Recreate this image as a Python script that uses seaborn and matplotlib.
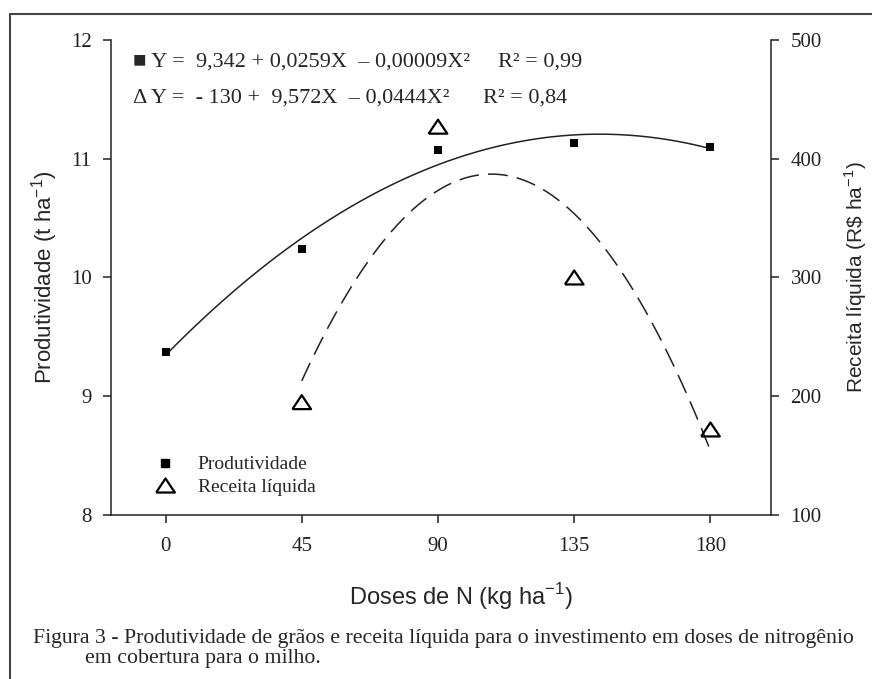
import seaborn as sns
import matplotlib.pyplot as plt
from matplotlib.lines import Line2D

# values
DOSES = [0, 45, 90, 135, 180]
PRODUTIVIDADE = [9.37, 10.24, 11.07, 11.13, 11.10]
DOSES_RECEITA = [45, 90, 135, 180]
RECEITA = [195, 427, 300, 172]

X_TICKS = [0, 45, 90, 135, 180]
Y_TICKS_PROD = [8, 9, 10, 11, 12]
Y_TICKS_REC = [100, 200, 300, 400, 500]

EQ_PROD = '■ Y =  9,342 + 0,0259X  – 0,00009X²'
EQ_REC = 'Δ Y =  - 130 +  9,572X  – 0,0444X²'
R2_PROD = 'R² = 0,99'
R2_REC = 'R² = 0,84'
CAPTION_1 = ('Figura 3 - Produtividade de grãos e receita líquida para o '
             'investimento em doses de nitrogênio')
CAPTION_2 = 'em cobertura para o milho.'

SERIF = ['Liberation Serif', 'DejaVu Serif']
SANS = ['Liberation Sans', 'DejaVu Sans']
TRIANGLE = [(-1, -0.75), (1, -0.75), (0, 0.75), (-1, -0.75)]

sns.set_theme(style='ticks')
plt.rcParams['font.family'] = SERIF
plt.rcParams['mathtext.fontset'] = 'custom'
plt.rcParams['mathtext.rm'] = 'Liberation Sans'

fig = plt.figure(figsize=(8.72, 6.79), dpi=100)
ax = fig.add_axes([0.1273, 0.2416, 0.7569, 0.6995])
ax2 = ax.twinx()

# fitted quadratics
sns.regplot(x=DOSES, y=PRODUTIVIDADE, order=2, ci=None, scatter=False, ax=ax,
            line_kws=dict(color='#222222', lw=1.1))
sns.regplot(x=DOSES_RECEITA, y=RECEITA, order=2, ci=None, scatter=False, ax=ax2,
            line_kws=dict(color='#222222', lw=1.1, dashes=(13, 6)))

sns.scatterplot(x=DOSES, y=PRODUTIVIDADE, ax=ax, marker='s', s=36,
                color='black', edgecolor='black', linewidth=0, zorder=5)
sns.scatterplot(x=DOSES_RECEITA, y=RECEITA, ax=ax2, marker=TRIANGLE, s=180,
                facecolors='none', edgecolors='black', linewidth=1.6, zorder=5)

ax.set_xlim(-18, 200)
ax.set_ylim(8, 12)
ax2.set_ylim(100, 500)
ax.set_xticks(X_TICKS)
ax.set_yticks(Y_TICKS_PROD)
ax2.set_yticks(Y_TICKS_REC)

for a in (ax, ax2):
    a.grid(False)
    a.spines['top'].set_visible(False)
    for s in a.spines.values():
        s.set_color('#222222')
        s.set_linewidth(1.1)
    a.tick_params(colors='#222222', labelcolor='#222222', length=6, width=1.1,
                  labelsize=15)
ax.spines['right'].set_visible(False)
ax2.spines['left'].set_visible(False)
ax2.spines['bottom'].set_visible(False)
ax.tick_params(axis='y', pad=8)
ax.tick_params(axis='x', pad=10)
ax2.tick_params(axis='y', pad=8)

ax.set_xlabel('Doses de N (kg ha$^{-1}$)', family=SANS, fontsize=17)
ax.set_ylabel('Produtividade (t ha$^{-1}$)', family=SANS, fontsize=16)
ax2.set_ylabel('Receita líquida (R$\\$$ ha$^{-1}$)', family=SANS, fontsize=15)
ax.xaxis.set_label_coords(0.53, -0.14)
ax.yaxis.set_label_coords(-0.078, 0.5)
ax2.yaxis.set_label_coords(1.108, 0.5)

ax.text(0.033, 0.954, EQ_PROD, transform=ax.transAxes, fontsize=16,
        va='center', family=SERIF)
ax.text(0.586, 0.954, R2_PROD, transform=ax.transAxes, fontsize=16,
        va='center', family=SERIF)
ax.text(0.033, 0.878, EQ_REC, transform=ax.transAxes, fontsize=16,
        va='center', family=SERIF)
ax.text(0.564, 0.878, R2_REC, transform=ax.transAxes, fontsize=16,
        va='center', family=SERIF)

handles = [
    Line2D([], [], ls='', marker='s', ms=6, color='black'),
    Line2D([], [], ls='', marker=TRIANGLE, ms=13.5, mfc='none', mec='black', mew=1.6),
]
ax.legend(handles, ['Produtividade', 'Receita líquida'], loc='lower left',
          bbox_to_anchor=(0.052, 0.04), frameon=False, borderpad=0,
          borderaxespad=0, handletextpad=0.7, labelspacing=0.25,
          prop=dict(family=SERIF, size=14))

fig.text(0.038, 0.060, CAPTION_1, fontsize=15.7, va='center', family=SERIF)
fig.text(0.0975, 0.030, CAPTION_2, fontsize=15.7, va='center', family=SERIF)

# frame around the figure (only top and left edges show)
fig.add_artist(Line2D([0.0115, 1.0], [0.9794, 0.9794], transform=fig.transFigure,
                      color='#444444', lw=1.5))
fig.add_artist(Line2D([0.0115, 0.0115], [0.0, 0.9794], transform=fig.transFigure,
                      color='#444444', lw=1.5))

fig.savefig('out.png', dpi=100)
